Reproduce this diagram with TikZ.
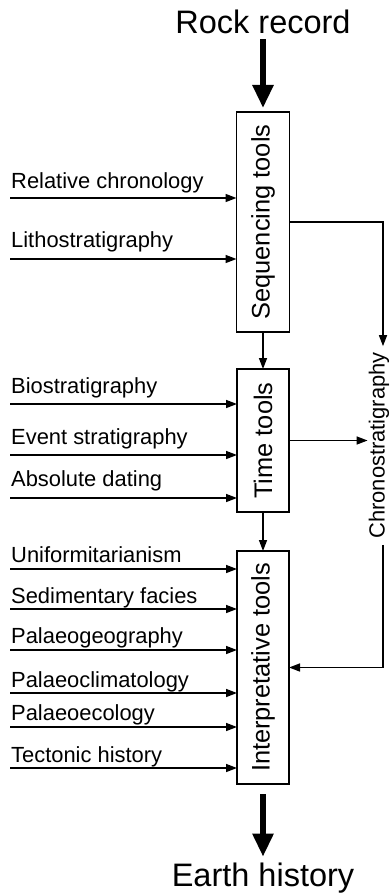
\documentclass[tikz,border=0pt]{standalone}
\usepackage{fontspec}
\setmainfont{Liberation Sans}
\usetikzlibrary{arrows.meta}

\tikzset{
	toolbox/.style={draw, line width=1.5pt, rotate=90, inner sep=0pt, outer sep=0pt,
		font=\fontsize{25.4}{30}\selectfont},
	inlabel/.style={anchor=base west, inner sep=0pt, font=\fontsize{21.9}{26}\selectfont},
	thin/.style={line width=1.5pt, -{Triangle[length=11pt,width=8pt]}},
	thick/.style={line width=5.5pt, -{Triangle[length=23pt,width=20pt]}},
	title/.style={font=\fontsize{32.5}{38}\selectfont, inner sep=3pt}
}

\begin{document}
\begin{tikzpicture}[x=1pt, y=-1pt]
		\def \bx {263}
		\def \lx {10}
		\def \rx {383}

		\useasboundingbox (0,0) rectangle (389,896);

		\node[title] (rock) at (\bx,22) {Rock record};
		\node[title] (earth) at (\bx,878) {Earth history};

		% rotated boxes: north is the left side, south the right side
		\node[toolbox, minimum width=220pt, minimum height=53pt] (seq) at (\bx,222) {Sequencing tools};
		\node[toolbox, minimum width=143pt, minimum height=52pt] (time) at (\bx,440.5) {Time tools};
		\node[toolbox, minimum width=233pt, minimum height=52pt] (int) at (\bx,667.5) {Interpretative tools};

		\node[rotate=90, inner xsep=6pt, inner ysep=1pt, font=\fontsize{21.9}{26}\selectfont] (chrono) at (379,445.5) {Chronostratigraphy};
		\coordinate (rail) at (\rx,0);

		% inputs: name / line y / baseline y / text
		\foreach \n/\y/\b/\t in {a/198/189/Relative chronology, b/259/247/Lithostratigraphy} {
			\node[inlabel] (lab\n) at (11,\b) {\t};
			\coordinate (in\n) at (\lx,\y);
			\draw[thin] (in\n) -- (in\n -| seq.north);
		}
		\foreach \n/\y/\b/\t in {c/404/393/Biostratigraphy, d/455/444/Event stratigraphy, e/498/486/Absolute dating} {
			\node[inlabel] (lab\n) at (11,\b) {\t};
			\coordinate (in\n) at (\lx,\y);
			\draw[thin] (in\n) -- (in\n -| time.north);
		}
		\foreach \n/\y/\b/\t in {f/569/562/Uniformitarianism, g/609/603/Sedimentary facies, h/650/643/Palaeogeography,
				i/693/687/Palaeoclimatology, j/727/720/Palaeoecology, k/768/762/Tectonic history} {
			\node[inlabel] (lab\n) at (11,\b) {\t};
			\coordinate (in\n) at (\lx,\y);
			\draw[thin] (in\n) -- (in\n -| int.north);
		}

		\draw[thick, shorten <=2pt, shorten >=4pt] (rock) -- (seq.east);
		\draw[thick, shorten <=10pt, shorten >=3pt] (int.west) -- (earth);

		\draw[thin] (seq.west) -- (time.east);
		\draw[thin] (time.west) -- (int.east);

		\draw[thin] (seq.south) -| (rail |- chrono.east);
		\draw[thin] (time.south) -- (time.south -| chrono.north);
		\draw[thin] (rail |- chrono.west) |- (int.south);
	\end{tikzpicture}
\end{document}
